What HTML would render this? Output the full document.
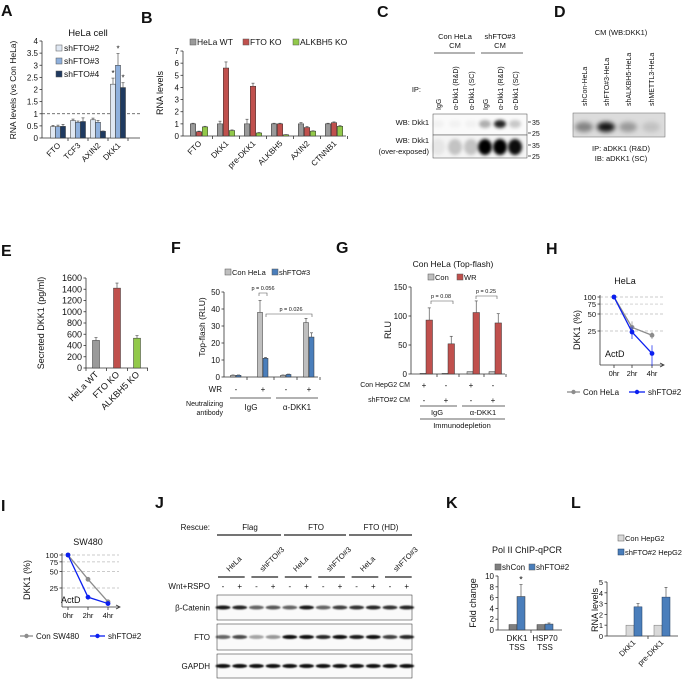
<!DOCTYPE html>
<html><head><meta charset="utf-8">
<style>
html,body{margin:0;padding:0;background:#fff;}
svg{display:block;font-family:"Liberation Sans",Arial,sans-serif;}
</style></head>
<body>
<svg id="fig" width="686" height="679" viewBox="0 0 686 679" xmlns="http://www.w3.org/2000/svg">
<defs>
<filter id="blur" x="-50%" y="-100%" width="200%" height="300%"><feGaussianBlur stdDeviation="1.6"/></filter>
<filter id="blur3" x="-50%" y="-100%" width="200%" height="300%"><feGaussianBlur stdDeviation="2.4"/></filter>
<filter id="blur2" x="-50%" y="-100%" width="200%" height="300%"><feGaussianBlur stdDeviation="0.8"/></filter>
</defs>
</svg>
<script>
// ---------- DATA ----------
const aCats=['FTO','TCF3','AXIN2','DKK1'];
const aSh2=[0.47,0.72,0.75,2.22];
const aSh3=[0.47,0.65,0.65,3.0];
const aSh4=[0.48,0.68,0.28,2.08];
const aErr2=[0.05,0.06,0.07,0.25];
const aErr3=[0.06,0.05,0.07,0.48];
const aErr4=[0.08,0.15,0.01,0.2];
const aTicks=[0,0.5,1,1.5,2,2.5,3,3.5,4];

const bCats=['FTO','DKK1','pre-DKK1','ALKBH5','AXIN2','CTNNB1'];
const bWT=[1,1,1,1,1,1];
const bFTO=[0.35,5.6,4.1,1,0.7,1.1];
const bALK=[0.75,0.45,0.25,0.1,0.4,0.8];
const bErrWT=[0.05,0.22,0.38,0.05,0.1,0.05];
const bErrFTO=[0.05,0.5,0.25,0.05,0.08,0.06];
const bErrALK=[0.05,0.05,0.04,0.02,0.03,0.05];
const bTicks=[0,1,2,3,4,5,6,7];

const eCats=['HeLa WT','FTO KO','ALKBH5 KO'];
const eVals=[490,1420,530];
const eErr=[50,90,45];
const eTicks=[0,200,400,600,800,1000,1200,1400,1600];

const fWR=['-','+','-','+'];
const fCon=[1,38,1,32];
const fSh=[1,11,1.5,23.5];
const fErrCon=[0.2,7,0.2,2.5];
const fErrSh=[0.2,0.5,0.2,2.5];
const fTicks=[0,10,20,30,40,50];

const gConHep=['+','-','+','-'];
const gShCM=['-','+','-','+'];
const gCon=[1,1,4,4];
const gWR=[93,52,106,88];
const gErrWR=[21,13,20,16];
const gTicks=[0,50,100,150];

const hTimes=['0hr','2hr','4hr'];
const hCon=[100,29,21];
const hSh=[100,24,10];
const hErrCon=[0,8,3];
const hErrSh=[0,6,4];
const hTicks=[100,75,50,25];

const iTimes=['0hr','2hr','4hr'];
const iCon=[100,36,14];
const iSh=[100,17,13];
const iTicks=[100,75,50,25];

const kCats=[['DKK1','TSS'],['HSP70','TSS']];
const kCon=[1,1];
const kSh=[6.2,1.1];
const kErrSh=[2.2,0.2];
const kTicks=[0,2,4,6,8,10];

const lCats=['DKK1','pre-DKK1'];
const lCon=[1,1];
const lSh=[2.7,3.6];
const lErrSh=[0.3,0.9];
const lTicks=[0,1,2,3,4,5];

// ---------- HELPERS ----------
const NS='http://www.w3.org/2000/svg';
const svg=document.getElementById('fig');
function el(tag,a,name,parent){
  const e=document.createElementNS(NS,tag);
  for(const k in a) e.setAttribute(k,a[k]);
  
  
  (parent||svg).appendChild(e);
  return e;
}
function txt(x,y,s,name,size,anchor,extra){
  const a={x:x,y:y,'font-size':size||8,'text-anchor':anchor||'start',fill:'#111'};
  if(extra) for(const k in extra) a[k]=extra[k];
  const t=el('text',a,name);
  t.textContent=s;
  return t;
}
function line(x1,y1,x2,y2,name,stroke,w,dash){
  const a={x1:x1,y1:y1,x2:x2,y2:y2,stroke:stroke||'#333','stroke-width':w||0.8};
  if(dash) a['stroke-dasharray']=dash;
  return el('line',a,name);
}
function rect(x,y,w,h,name,fill,stroke){
  return el('rect',{x:x,y:y,width:w,height:h,fill:fill,stroke:stroke||'#333','stroke-width':0.5},name);
}
function errbar(x,yv,ye,name){
  line(x,yv,x,ye,name,'#555',0.7);
  line(x-1.5,ye,x+1.5,ye,name+'-cap','#555',0.7);
}
function letter(x,y,s){ txt(x,y,s,'panel-label-'+s.toLowerCase(),16,'start',{'font-weight':'bold'}); }
function yAxis(x,yTop,yBot,ticks,yf,name,fmt,size){
  line(x,yTop,x,yBot,name+'-line');
  ticks.forEach(t=>{const y=yf(t);
    line(x-2.5,y,x,y,name+'-tick');
    txt(x-4,y+3,fmt?fmt(t):String(t),name+'-tick-label',size||8,'end');});
}
function swatch(x,y,fill,name,stroke){ rect(x,y-6,6,6,name,fill,stroke||'#555'); }

// ---------- PANEL A ----------
letter(1,16,'A');
const yA=v=>138-v*24.25;
const aX=[58,78,98,118];
txt(88,36,'HeLa cell','panel-a-title',9.5,'middle');
yAxis(42,41,138,aTicks,yA,'panel-a-y-axis');
line(42,138,140,138,'panel-a-x-axis');
line(42,yA(1),140,yA(1),'panel-a-reference-line','#444',0.7,'3,2');
const aCols=['#dfe7f2','#8fb0dc','#1f3a60'];
[aSh2,aSh3,aSh4].forEach((ser,si)=>{
  const errs=[aErr2,aErr3,aErr4][si];
  ser.forEach((v,i)=>{const x=aX[i]+(si-1)*5-2.5;
    rect(x,yA(v),5,138-yA(v),'panel-a-bar-'+aCats[i].toLowerCase(),aCols[si]);
    errbar(x+2.5,yA(v),yA(v+errs[i]),'panel-a-error-bar');});
});
aX.forEach((c,i)=>{line(c+10,138,c+10,141,'panel-a-x-tick');
  txt(c+3,146,aCats[i],'panel-a-x-label',8,'end',{transform:'rotate(-45 '+(c+3)+' 146)'});});
txt(16,90,'RNA levels (vs Con HeLa)','panel-a-y-title',8.5,'middle',{transform:'rotate(-90 16 90)'});
['shFTO#2','shFTO#3','shFTO#4'].forEach((s,i)=>{swatch(56,51+i*13,aCols[i],'panel-a-legend-swatch');
  txt(64,51+i*13,s,'panel-a-legend-entry',8.5);});
txt(aX[3]-5,yA(2.22+0.25)-2,'*','panel-a-star',8,'middle');
txt(aX[3],yA(3.0+0.48)-2,'*','panel-a-star',8,'middle');
txt(aX[3]+5,yA(2.08+0.2)-2,'*','panel-a-star',8,'middle');

// ---------- PANEL B ----------
letter(141,23,'B');
const yB=v=>136-v*12.14;
const bX=bCats.map((c,i)=>199+i*27);
yAxis(183,51,136,bTicks,yB,'panel-b-y-axis');
line(183,136,346,136,'panel-b-x-axis');
const bCols=['#9a9a9a','#c0504d','#92c94a'];
[bWT,bFTO,bALK].forEach((ser,si)=>{
  const errs=[bErrWT,bErrFTO,bErrALK][si];
  ser.forEach((v,i)=>{const x=bX[i]+(si-1)*6-2.75;
    rect(x,yB(v),5.5,136-yB(v),'panel-b-bar-'+bCats[i].toLowerCase(),bCols[si]);
    errbar(x+2.75,yB(v),yB(v+errs[i]),'panel-b-error-bar');});
});
bX.forEach((c,i)=>{line(c+13.5,136,c+13.5,139,'panel-b-x-tick');
  txt(c+3,144,bCats[i],'panel-b-x-label',8,'end',{transform:'rotate(-45 '+(c+3)+' 144)'});});
txt(163,93,'RNA levels','panel-b-y-title',9,'middle',{transform:'rotate(-90 163 93)'});
[['HeLa WT',190],['FTO KO',243],['ALKBH5 KO',293]].forEach((p,i)=>{swatch(p[1],45,bCols[i],'panel-b-legend-swatch');
  txt(p[1]+7,45,p[0],'panel-b-legend-entry',8.5);});

// ---------- PANEL C (blot) ----------
letter(377,17,'C');
txt(455,39,'Con HeLa','panel-c-header',7.5,'middle');txt(455,48,'CM','panel-c-header',7.5,'middle');
txt(500,39,'shFTO#3','panel-c-header',7.5,'middle');txt(500,48,'CM','panel-c-header',7.5,'middle');
line(434,53,475,53,'panel-c-group-line');line(481,53,523,53,'panel-c-group-line');
const cLanes=[438,455,471,485,500,515];
const cLab=['IgG','α-Dkk1 (R&D)','α-Dkk1 (SC)','IgG','α-Dkk1 (R&D)','α-Dkk1 (SC)'];
cLanes.forEach((x,i)=>txt(x+3,110,cLab[i],'panel-c-lane-label',7,'start',{transform:'rotate(-90 '+(x+3)+' 110)'}));
txt(421,92,'IP:','panel-c-ip-label',7.5,'end');
txt(429,125,'WB: Dkk1','panel-c-row-label',7.5,'end');
txt(429,143,'WB: Dkk1','panel-c-row-label',7.5,'end');
txt(429,154,'(over-exposed)','panel-c-row-label',7.5,'end');
rect(433,114,94,21,'panel-c-blot-1','#fafafa','#444');
rect(433,135,94,23,'panel-c-blot-2','#f4f4f4','#444');
const cI1=[0.03,0.03,0.03,0.3,0.85,0.2];
const cI2=[0.06,0.2,0.2,1,1,0.95];
cLanes.forEach((x,i)=>{el('ellipse',{cx:x,cy:124,rx:6,ry:4,fill:'#000','fill-opacity':cI1[i],filter:'url(#blur)'},'panel-c-band');
  el('ellipse',{cx:x,cy:147,rx:7,ry:8,fill:'#000','fill-opacity':cI2[i],filter:'url(#blur)'},'panel-c-band');});
[['35',122],['25',133],['35',145],['25',156]].forEach(p=>{line(528,p[1],531,p[1],'panel-c-marker-tick');txt(532,p[1]+3,p[0],'panel-c-marker',7);});

// ---------- PANEL D ----------
letter(554,17,'D');
txt(621,35,'CM (WB:DKK1)','panel-d-title',7.5,'middle');
const dLanes=[584,606,628,651];
const dLab=['shCon-HeLa','shFTO#3-HeLa','shALKBH5-HeLa','shMETTL3-HeLa'];
dLanes.forEach((x,i)=>txt(x+3,106,dLab[i],'panel-d-lane-label',7,'start',{transform:'rotate(-90 '+(x+3)+' 106)'}));
rect(573,113,92,24,'panel-d-blot','#dcdcdc','#666');
const dI=[0.4,0.9,0.3,0.12];
dLanes.forEach((x,i)=>el('ellipse',{cx:x,cy:127,rx:9,ry:5,fill:'#000','fill-opacity':dI[i],filter:'url(#blur3)'},'panel-d-band'));
txt(621,151,'IP: aDKK1 (R&D)','panel-d-caption',7.5,'middle');
txt(621,161,'IB: aDKK1 (SC)','panel-d-caption',7.5,'middle');

// ---------- PANEL E ----------
letter(1,256,'E');
const yE=v=>368-v*(90/1600);
const eX=[96,117,137];
yAxis(86,278,368,eTicks,yE,'panel-e-y-axis',null,9);
line(86,368,148,368,'panel-e-x-axis');
const eCols=['#9a9a9a','#c0504d','#92c94a'];
eVals.forEach((v,i)=>{rect(eX[i]-3.5,yE(v),7,368-yE(v),'panel-e-bar-'+i,eCols[i]);
  errbar(eX[i],yE(v),yE(v+eErr[i]),'panel-e-error-bar');
  line(eX[i]+10.5,368,eX[i]+10.5,371,'panel-e-x-tick');
  txt(eX[i]+3,375,eCats[i],'panel-e-x-label',9,'end',{transform:'rotate(-45 '+(eX[i]+3)+' 375)'});});
line(86,368,86,371,'panel-e-x-tick');
txt(44,323,'Secreted DKK1 (pg/ml)','panel-e-y-title',9,'middle',{transform:'rotate(-90 44 323)'});

// ---------- PANEL F ----------
letter(171,253,'F');
const yF=v=>377-v*1.7;
const fX=[236,263,286,309];
txt(205,327,'Top-flash (RLU)','panel-f-y-title',8.5,'middle',{transform:'rotate(-90 205 327)'});
yAxis(224,292,377,fTicks,yF,'panel-f-y-axis');
line(224,377,318,377,'panel-f-x-axis');
fX.forEach((c,i)=>{
  rect(c-5.5,yF(fCon[i]),5,377-yF(fCon[i]),'panel-f-bar-con','#bfbfbf');
  errbar(c-3,yF(fCon[i]),yF(fCon[i]+fErrCon[i]),'panel-f-error-bar');
  rect(c,yF(fSh[i]),5,377-yF(fSh[i]),'panel-f-bar-sh','#4a7ebb');
  errbar(c+2.5,yF(fSh[i]),yF(fSh[i]+fErrSh[i]),'panel-f-error-bar');
  txt(c,392,fWR[i],'panel-f-wr-sign',8,'middle');
  line(c+11,377,c+11,380,'panel-f-x-tick');
});
swatch(225,275,'#bfbfbf','panel-f-legend-swatch');txt(232,275,'Con HeLa','panel-f-legend-entry',7.5);
swatch(272,275,'#4a7ebb','panel-f-legend-swatch');txt(279,275,'shFTO#3','panel-f-legend-entry',7.5);
txt(263,290,'p = 0.056','panel-f-pvalue',5.5,'middle');
el('path',{d:'M259 296 V293 H267 V296',fill:'none',stroke:'#555','stroke-width':0.6},'panel-f-bracket');
txt(291,311,'p = 0.026','panel-f-pvalue',5.5,'middle');
el('path',{d:'M266 317 V314 H312 V317',fill:'none',stroke:'#555','stroke-width':0.6},'panel-f-bracket');
txt(222,392,'WR','panel-f-wr-label',8,'end');
line(230,398,271,398,'panel-f-group-line');line(276,398,318,398,'panel-f-group-line');
txt(223,406,'Neutralizing','panel-f-antibody-label',7,'end');txt(223,415,'antibody','panel-f-antibody-label',7,'end');
txt(251,410,'IgG','panel-f-group-label',8,'middle');txt(297,410,'α-DKK1','panel-f-group-label',8,'middle');

// ---------- PANEL G ----------
letter(336,253,'G');
const yG=v=>374-v*0.58;
const gX=[426,448,473,495];
txt(453,267,'Con HeLa (Top-flash)','panel-g-title',8.5,'middle');
swatch(428,280,'#bfbfbf','panel-g-legend-swatch');txt(435,280,'Con','panel-g-legend-entry',7.5);
swatch(457,280,'#c0504d','panel-g-legend-swatch');txt(464,280,'WR','panel-g-legend-entry',7.5);
yAxis(411,287,374,gTicks,yG,'panel-g-y-axis');
line(411,374,505,374,'panel-g-x-axis');
txt(391,330,'RLU','panel-g-y-title',9,'middle',{transform:'rotate(-90 391 330)'});
gX.forEach((c,i)=>{
  rect(c-6,yG(gCon[i]),6,374-yG(gCon[i]),'panel-g-bar-con','#bfbfbf');
  rect(c,yG(gWR[i]),6.5,374-yG(gWR[i]),'panel-g-bar-wr','#c0504d');
  errbar(c+3.25,yG(gWR[i]),yG(gWR[i]+gErrWR[i]),'panel-g-error-bar');
  line(c+11,374,c+11,377,'panel-g-x-tick');
  txt(c-2,388,gConHep[i],'panel-g-sign',8,'middle');
  txt(c-2,403,gShCM[i],'panel-g-sign',8,'middle');
});
txt(441,298,'p = 0.08','panel-g-pvalue',5.5,'middle');
el('path',{d:'M431 304 V301 H453 V304',fill:'none',stroke:'#555','stroke-width':0.6},'panel-g-bracket');
txt(486,293,'p = 0.25','panel-g-pvalue',5.5,'middle');
el('path',{d:'M476 299 V296 H497 V299',fill:'none',stroke:'#555','stroke-width':0.6},'panel-g-bracket');
txt(410,387,'Con HepG2 CM','panel-g-row-label',7,'end');
txt(410,402,'shFTO#2 CM','panel-g-row-label',7,'end');
line(420,406,457,406,'panel-g-group-line');line(462,406,505,406,'panel-g-group-line');
txt(437,415,'IgG','panel-g-group-label',7.5,'middle');txt(483,415,'α-DKK1','panel-g-group-label',7.5,'middle');
line(420,419,505,419,'panel-g-group-line');
txt(462,428,'Immunodepletion','panel-g-immunodepletion',7.5,'middle');

// ---------- PANEL H ----------
letter(546,254,'H');
const yH=v=>331-Math.log2(v/25)*17;
const hX=[614,632,652];
txt(625,284,'HeLa','panel-h-title',9,'middle');
hTicks.forEach(t=>line(600,yH(t),663,yH(t),'panel-h-gridline','#bbb',0.7,'3,2'));
yAxis(600,295,365,hTicks,yH,'panel-h-y-axis',null,7.5);
line(600,365,663,365,'panel-h-x-axis');
el('path',{d:'M660 363 L664 365 L660 367',fill:'none',stroke:'#333','stroke-width':0.8},'panel-h-arrow');
hX.forEach((x,i)=>{line(x,365,x,368,'panel-h-x-tick');txt(x,376,hTimes[i],'panel-h-x-label',7.5,'middle');});
function series(xs,vals,yf,color,name,errs){
  el('polyline',{points:xs.map((x,i)=>x+','+yf(vals[i])).join(' '),fill:'none',stroke:color,'stroke-width':1.3},name+'-line');
  xs.forEach((x,i)=>{
    if(errs&&errs[i]){line(x,yf(vals[i]+errs[i]),x,yf(Math.max(vals[i]-errs[i],1)),name+'-error-bar',color,0.7);}
    el('circle',{cx:x,cy:yf(vals[i]),r:2.4,fill:color},name+'-point');});
}
series(hX,hCon,yH,'#8c8c8c','panel-h-con-hela',hErrCon);
series(hX,hSh,yH,'#0b1ff0','panel-h-shfto2',hErrSh);
txt(605,357,'ActD','panel-h-actd',9);
txt(580,330,'DKK1 (%)','panel-h-y-title',9,'middle',{transform:'rotate(-90 580 330)'});
line(567,392,580,392,'panel-h-legend-line','#8c8c8c',1.3);el('circle',{cx:573.5,cy:392,r:2.2,fill:'#8c8c8c'},'panel-h-legend-marker');
txt(583,395,'Con HeLa','panel-h-legend-entry',8);
line(629,392,645,392,'panel-h-legend-line','#0b1ff0',1.3);el('circle',{cx:637,cy:392,r:2.2,fill:'#0b1ff0'},'panel-h-legend-marker');
txt(648,395,'shFTO#2','panel-h-legend-entry',8);

// ---------- PANEL I ----------
letter(1,511,'I');
const yI=v=>588-Math.log2(v/25)*16.5;
const iX=[68,88,108];
txt(88,545,'SW480','panel-i-title',9,'middle');
iTicks.forEach(t=>line(62,yI(t),119,yI(t),'panel-i-gridline','#bbb',0.7,'3,2'));
yAxis(62,553,607,iTicks,yI,'panel-i-y-axis',null,7.5);
line(62,607,119,607,'panel-i-x-axis');
el('path',{d:'M116 605 L120 607 L116 609',fill:'none',stroke:'#333','stroke-width':0.8},'panel-i-arrow');
iX.forEach((x,i)=>{line(x,607,x,610,'panel-i-x-tick');txt(x,618,iTimes[i],'panel-i-x-label',7.5,'middle');});
series(iX,iCon,yI,'#8c8c8c','panel-i-con-sw480');
series(iX,iSh,yI,'#0b1ff0','panel-i-shfto2');
txt(61,603,'ActD','panel-i-actd',9);
txt(30,580,'DKK1 (%)','panel-i-y-title',9,'middle',{transform:'rotate(-90 30 580)'});
line(20,636,33,636,'panel-i-legend-line','#8c8c8c',1.3);el('circle',{cx:26.5,cy:636,r:2.2,fill:'#8c8c8c'},'panel-i-legend-marker');
txt(36,639,'Con SW480','panel-i-legend-entry',8);
line(90,636,105,636,'panel-i-legend-line','#0b1ff0',1.3);el('circle',{cx:97.5,cy:636,r:2.2,fill:'#0b1ff0'},'panel-i-legend-marker');
txt(108,639,'shFTO#2','panel-i-legend-entry',8);

// ---------- PANEL J (blots) ----------
letter(155,508,'J');
txt(210,530,'Rescue:','panel-j-rescue-label',8,'end');
[['Flag',250,217,281],['FTO',316,284,346],['FTO (HD)',381,349,412]].forEach(g=>{
  txt(g[1],530,g[0],'panel-j-group-label',8,'middle');line(g[2],535,g[3],535,'panel-j-group-line','#222',1.2);});
const jLanes=[];for(let i=0;i<12;i++) jLanes.push(223+i*16.7);
[0,1,2,3,4,5].forEach(k=>{const a=jLanes[2*k]-5,b=jLanes[2*k+1]+5;
  line(a,577,b,577,'panel-j-cell-line','#222',1.2);
  const lab=k%2?'shFTO#3':'HeLa';const cx=(a+b)/2-2;
  txt(cx,572,lab,'panel-j-cell-label',7.5,'start',{transform:'rotate(-45 '+cx+' 572)'});
  txt(jLanes[2*k],589,'-','panel-j-sign',8,'middle');txt(jLanes[2*k+1],589,'+','panel-j-sign',8,'middle');});
txt(210,589,'Wnt+RSPO','panel-j-treatment-label',8,'end');
const jBlots=[['β-Catenin',595,25,[0.9,0.85,0.6,0.65,0.6,0.9,0.6,0.75,0.8,0.85,0.8,0.85]],
  ['FTO',624,26,[0.6,0.7,0.35,0.4,0.95,0.95,0.85,0.95,0.9,0.95,0.75,0.85]],
  ['GAPDH',654,24,[0.95,0.95,0.95,0.95,0.95,0.95,0.95,0.95,0.95,0.95,0.95,0.95]]];
jBlots.forEach(b=>{rect(217,b[1],195,b[2],'panel-j-blot-'+b[0].toLowerCase(),'#fafafa','#222');
  txt(210,b[1]+b[2]/2+3,b[0],'panel-j-blot-label',8,'end');
  jLanes.forEach((x,i)=>el('ellipse',{cx:x,cy:b[1]+b[2]/2,rx:7.5,ry:2,fill:'#000','fill-opacity':b[3][i],filter:'url(#blur2)'},'panel-j-band'));});

// ---------- PANEL K ----------
letter(446,508,'K');
const yK=v=>630-v*5.4;
const kX=[517,545];
txt(527,553,'Pol II ChIP-qPCR','panel-k-title',9,'middle');
swatch(495,570,'#7f7f7f','panel-k-legend-swatch');txt(502,570,'shCon','panel-k-legend-entry',8);
swatch(529,570,'#4a7ebb','panel-k-legend-swatch');txt(536,570,'shFTO#2','panel-k-legend-entry',8);
yAxis(498,576,630,kTicks,yK,'panel-k-y-axis',null,8);
line(498,630,562,630,'panel-k-x-axis');
kX.forEach((c,i)=>{rect(c-8,yK(kCon[i]),8,630-yK(kCon[i]),'panel-k-bar-shcon','#7f7f7f');
  rect(c,yK(kSh[i]),8,630-yK(kSh[i]),'panel-k-bar-shfto2','#4a7ebb');
  errbar(c+4,yK(kSh[i]),yK(kSh[i]+kErrSh[i]),'panel-k-error-bar');
  txt(c,641,kCats[i][0],'panel-k-x-label',8,'middle');txt(c,650,kCats[i][1],'panel-k-x-label',8,'middle');});
line(531,630,531,633,'panel-k-x-tick');
txt(kX[0]+4,yK(kSh[0]+kErrSh[0])-2,'*','panel-k-star',9,'middle');
txt(476,603,'Fold change','panel-k-y-title',9,'middle',{transform:'rotate(-90 476 603)'});

// ---------- PANEL L ----------
letter(571,508,'L');
const yL=v=>636-v*10.8;
const lX=[634,662];
swatch(618,541,'#d9d9d9','panel-l-legend-swatch');txt(625,541,'Con HepG2','panel-l-legend-entry',7.5);
swatch(618,555,'#4a7ebb','panel-l-legend-swatch','#1f3a60');txt(625,555,'shFTO#2 HepG2','panel-l-legend-entry',7.5);
yAxis(607,582,636,lTicks,yL,'panel-l-y-axis',null,7.5);
line(607,636,678,636,'panel-l-x-axis');
lX.forEach((c,i)=>{rect(c-8,yL(lCon[i]),8,636-yL(lCon[i]),'panel-l-bar-con','#d9d9d9','#777');
  rect(c,yL(lSh[i]),8,636-yL(lSh[i]),'panel-l-bar-sh','#4a7ebb','#1f3a60');
  errbar(c+4,yL(lSh[i]),yL(lSh[i]+lErrSh[i]),'panel-l-error-bar');
  txt(c+2,643,lCats[i],'panel-l-x-label',7.5,'end',{transform:'rotate(-45 '+(c+2)+' 643)'});});
line(648,636,648,639,'panel-l-x-tick');
txt(598,610,'RNA levels','panel-l-y-title',9,'middle',{transform:'rotate(-90 598 610)'});
</script>
</body></html>
